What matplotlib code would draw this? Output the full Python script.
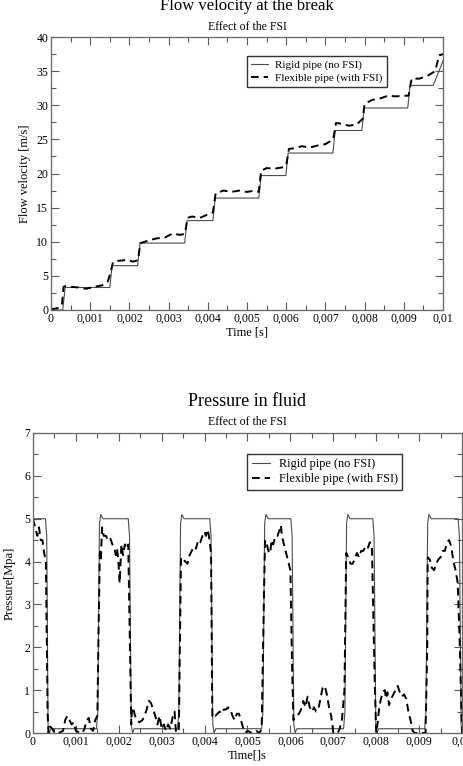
import numpy as np
import matplotlib.pyplot as plt
from matplotlib.ticker import MultipleLocator

plt.rcParams['font.family'] = ['Liberation Serif', 'DejaVu Serif']

# --- data: flow velocity at the break ---
vel_rigid_t = [0, 0.00030, 0.00036, 0.00150, 0.00156, 0.00221, 0.00227, 0.00341, 0.00347,
               0.00413, 0.00419, 0.00530, 0.00536, 0.00599, 0.00605, 0.00719, 0.00725,
               0.00793, 0.00799, 0.00910, 0.00916, 0.00975, 0.0100]
vel_rigid_v = [0, 0, 3.3, 3.3, 6.5, 6.5, 9.8, 9.8, 13.1, 13.1, 16.4, 16.4, 19.7, 19.7,
               23.0, 23.0, 26.3, 26.3, 29.6, 29.6, 32.9, 32.9, 36.5]

vel_flex_t = [0, 0.0001, 0.0002, 0.00028, 0.00032, 0.00036, 0.0005, 0.0007, 0.0009, 0.0011,
              0.0013, 0.00145, 0.00152, 0.00158, 0.0017, 0.0019, 0.0021, 0.00222, 0.00228,
              0.0025, 0.0027, 0.0029, 0.0031, 0.0033, 0.00342, 0.00348, 0.0036, 0.0038,
              0.004, 0.00413, 0.0042, 0.0044, 0.0046, 0.0048, 0.005, 0.0052, 0.0053,
              0.00536, 0.0055, 0.0057, 0.0059, 0.006, 0.00607, 0.0062, 0.0064, 0.0066,
              0.0068, 0.007, 0.0072, 0.00727, 0.0074, 0.0076, 0.0078, 0.00795, 0.008,
              0.0082, 0.0084, 0.0086, 0.0088, 0.009, 0.00912, 0.0092, 0.0094, 0.0096,
              0.0098, 0.0099, 0.0100]
vel_flex_v = [0.1, 0.2, 0.3, 0.8, 3.4, 3.5, 3.4, 3.3, 3.1, 3.4,
              3.6, 4.2, 5.5, 7.0, 7.2, 7.3, 7.1, 7.3, 9.8,
              10.2, 10.5, 10.6, 11.2, 11.0, 11.2, 13.5, 13.7, 13.5,
              14.0, 14.3, 17.1, 17.5, 17.3, 17.5, 17.3, 17.5, 17.3,
              20.4, 20.8, 20.7, 20.9, 21.2, 23.6, 23.7, 24.0, 23.8,
              24.1, 24.3, 25.0, 27.4, 27.3, 27.0, 27.2, 28.0, 30.2,
              30.8, 31.0, 31.4, 31.3, 31.4, 31.4, 33.9, 33.9, 34.3,
              35.0, 37.3, 37.5]

# --- data: pressure in fluid ---
p_rigid_t = [0, 0.00029, 0.00032, 0.00035, 0.00038, 0.00042, 0.00148, 0.00151, 0.00155,
             0.00158, 0.00163, 0.00222, 0.00225, 0.00229, 0.00232, 0.00236, 0.00337,
             0.0034, 0.00344, 0.00347, 0.00352, 0.00412, 0.00415, 0.00419, 0.00422,
             0.00426, 0.00533, 0.00536, 0.0054, 0.00543, 0.00548, 0.00601, 0.00604,
             0.00608, 0.00611, 0.00615, 0.00724, 0.00727, 0.00731, 0.00734, 0.00739,
             0.00792, 0.00795, 0.00799, 0.00802, 0.00806, 0.00913, 0.00916, 0.0092,
             0.00923, 0.00928, 0.00991, 0.00994, 0.00998, 0.0100]
p_rigid_v = [5.0, 5.0, 4.6, 0.2, 0.0, 0.1, 0.1, 0.5, 4.9,
             5.1, 5.0, 5.0, 4.6, 0.2, 0.0, 0.1, 0.1,
             0.5, 4.9, 5.1, 5.0, 5.0, 4.6, 0.2, 0.0,
             0.1, 0.1, 0.5, 4.9, 5.1, 5.0, 5.0, 4.6,
             0.2, 0.0, 0.1, 0.1, 0.5, 4.9, 5.1, 5.0,
             5.0, 4.6, 0.2, 0.0, 0.1, 0.1, 0.5, 4.9,
             5.1, 5.0, 5.0, 4.6, 0.2, 0.0]

p_flex_t = [0, 0.00005, 0.0001, 0.00014, 0.00018, 0.00022, 0.00026, 0.0003, 0.00034, 0.00036,
            0.0004, 0.00045, 0.0005, 0.0006, 0.0007, 0.00075, 0.0008, 0.00085, 0.0009, 0.00095,
            0.001, 0.0011, 0.00115, 0.0012, 0.00125, 0.0013, 0.00135, 0.0014, 0.00145, 0.0015,
            0.00153, 0.00156, 0.00158, 0.00161, 0.00165, 0.0017, 0.00175, 0.0018, 0.00185,
            0.0019, 0.00193, 0.00196, 0.00199, 0.00202, 0.00206, 0.0021, 0.00214, 0.00218,
            0.00222, 0.00226, 0.00229, 0.00231, 0.00234, 0.00238, 0.00242, 0.00248, 0.00255,
            0.0026, 0.00265, 0.0027, 0.00275, 0.0028, 0.00285, 0.0029, 0.00295, 0.003,
            0.00305, 0.0031, 0.00315, 0.0032, 0.00325, 0.0033, 0.00333, 0.00337, 0.0034,
            0.00343, 0.00345, 0.0035, 0.0036, 0.00365, 0.0037, 0.00375, 0.0038, 0.00385,
            0.0039, 0.00395, 0.004, 0.00403, 0.00407, 0.0041, 0.00415, 0.00418, 0.0042,
            0.00425, 0.0043, 0.00435, 0.0044, 0.00445, 0.0045, 0.00455, 0.0046, 0.00465,
            0.0047, 0.00475, 0.0048, 0.00485, 0.0049, 0.00495, 0.005, 0.0051, 0.0052,
            0.00528, 0.00533, 0.00538, 0.00541, 0.00545, 0.0055, 0.00553, 0.00556, 0.0056,
            0.00565, 0.0057, 0.00575, 0.00578, 0.0058, 0.00585, 0.0059, 0.00595, 0.006,
            0.00604, 0.00607, 0.0061, 0.00615, 0.0062, 0.00625, 0.0063, 0.00635, 0.0064,
            0.00645, 0.0065, 0.00655, 0.0066, 0.00665, 0.0067, 0.00675, 0.0068, 0.00685,
            0.0069, 0.00695, 0.007, 0.0071, 0.00715, 0.0072, 0.00726, 0.0073, 0.00735,
            0.0074, 0.00745, 0.0075, 0.00755, 0.0076, 0.00765, 0.0077, 0.00775, 0.0078,
            0.00785, 0.0079, 0.00797, 0.008, 0.00803, 0.00806, 0.0081, 0.00815, 0.0082,
            0.00823, 0.00826, 0.0083, 0.00835, 0.0084, 0.00845, 0.0085, 0.00855, 0.0086,
            0.00865, 0.0087, 0.00875, 0.0088, 0.00885, 0.0089, 0.0091, 0.00915, 0.00919,
            0.0092, 0.00925, 0.0093, 0.00935, 0.0094, 0.00945, 0.0095, 0.00955, 0.0096,
            0.00965, 0.0097, 0.00975, 0.0098, 0.00985, 0.0099, 0.00995, 0.0100]
p_flex_v = [5.0, 4.8, 4.6, 4.8, 4.5, 4.5, 4.2, 4.0, 0.5, 0.0,
            0.15, 0.1, 0.0, 0.0, 0.05, 0.3, 0.4, 0.3, 0.2, 0.25,
            0.05, 0.0, 0.0, 0.1, 0.3, 0.35, 0.1, 0.05, 0.3, 0.4,
            2.5, 4.3, 4.0, 4.8, 4.6, 4.6, 4.5, 4.55, 4.4,
            4.3, 4.15, 4.3, 4.0, 3.5, 4.4, 4.15, 4.4, 4.3,
            4.4, 2.0, 0.2, 0.6, 0.55, 0.4, 0.3, 0.25, 0.3,
            0.4, 0.55, 0.75, 0.7, 0.55, 0.4, 0.2, 0.4, 0.1,
            0.2, 0.05, 0.2, 0.1, 0.35, 0.5, 0.05, 0.0, 0.1,
            2.5, 4.1, 4.05, 3.95, 4.15, 4.25, 4.35, 4.3, 4.5,
            4.45, 4.6, 4.7, 4.6, 4.75, 4.6, 4.2, 0.4, 0.45,
            0.4, 0.45, 0.5, 0.45, 0.55, 0.55, 0.6, 0.55, 0.4,
            0.3, 0.45, 0.45, 0.3, 0.1, 0.0, 0.05, 0.0, 0.05,
            0.0, 0.1, 3.0, 4.5, 4.4, 4.2, 4.2, 4.5, 4.4,
            4.6, 4.6, 4.75, 4.85, 4.6, 4.4, 4.2, 4.0, 3.8,
            1.5, 0.3, 0.35, 0.4, 0.45, 0.55, 0.75, 0.6, 0.85,
            0.6, 0.5, 0.6, 0.5, 0.55, 0.8, 1.05, 1.1, 0.9,
            0.6, 0.4, 0.0, 0.0, 0.1, 0.3, 1.0, 4.2, 4.1,
            3.95, 3.95, 4.05, 4.2, 4.1, 4.25, 4.25, 4.35, 4.3,
            4.45, 4.35, 1.0, 0.0, 0.2, 0.5, 0.75, 0.95, 1.0,
            0.8, 0.95, 0.65, 0.8, 0.9, 1.0, 1.1, 0.95, 0.85,
            0.9, 0.8, 0.5, 0.3, 0.05, 0.0, 0.0, 0.0, 2.0,
            4.1, 4.05, 3.85, 3.8, 3.95, 4.05, 4.1, 4.25, 4.25,
            4.45, 4.5, 4.35, 4.0, 3.8, 3.5, 2.0, 0.0]

time_ticks = [0, 0.001, 0.002, 0.003, 0.004, 0.005, 0.006, 0.007, 0.008, 0.009, 0.01]
time_labels = ['0', '0,001', '0,002', '0,003', '0,004', '0,005', '0,006', '0,007',
               '0,008', '0,009', '0,01']

W, H = 464, 766
fig = plt.figure(figsize=(W / 100, H / 100), dpi=100)

def box(l, t, r, b):
    return [l / W, 1 - b / H, (r - l) / W, (b - t) / H]

def style(ax, ymajor, yminor):
    ax.set_xlim(0, 0.01)
    ax.set_xticks(time_ticks, time_labels)
    ax.xaxis.set_minor_locator(MultipleLocator(0.0005))
    ax.yaxis.set_major_locator(MultipleLocator(ymajor))
    ax.yaxis.set_minor_locator(MultipleLocator(yminor))
    ax.tick_params(which='both', direction='in', top=True, right=True,
                   color='0.35', labelsize=8.5, pad=2)
    ax.tick_params(which='major', length=6, width=0.8)
    ax.tick_params(which='minor', length=3.5, width=0.8)
    for s in ax.spines.values():
        s.set_color('0.4')
        s.set_linewidth(0.9)

def add_legend(ax, size):
    ax.legend(loc='upper left', bbox_to_anchor=(0.5, 0.93), fontsize=size,
              fancybox=False, edgecolor='0.2', framealpha=1, borderaxespad=0,
              handlelength=1.5, handletextpad=0.7, borderpad=0.35, labelspacing=0.25)

# top chart
ax1 = fig.add_axes(box(51, 37, 443, 310))
ax1.plot(vel_rigid_t, vel_rigid_v, color='0.3', lw=0.8, label='Rigid pipe (no FSI)')
ax1.plot(vel_flex_t, vel_flex_v, color='black', lw=1.4, ls=(0, (4, 2.5)),
         label='Flexible pipe (with FSI)')
ax1.set_ylim(0, 40)
style(ax1, 5, 2.5)
ax1.set_xlabel('Time [s]', fontsize=9, labelpad=1)
ax1.set_ylabel('Flow velocity [m/s]', fontsize=9, labelpad=4)
add_legend(ax1, 8)
fig.text(247 / W, 1 - 6 / H, 'Flow velocity at the break', ha='center', va='center', fontsize=12)
fig.text(247 / W, 1 - 27 / H, 'Effect of the FSI', ha='center', va='center', fontsize=8.5)

# bottom chart
ax2 = fig.add_axes(box(33, 433, 462, 733))
ax2.plot(p_rigid_t, p_rigid_v, color='0.3', lw=0.8, label='Rigid pipe (no FSI)')
ax2.plot(p_flex_t, p_flex_v, color='black', lw=1.4, ls=(0, (4, 2.5)),
         label='Flexible pipe (with FSI)')
ax2.set_ylim(0, 7)
style(ax2, 1, 0.5)
ax2.set_xlabel('Time[]s', fontsize=9, labelpad=1)
ax2.set_ylabel('Pressure[Mpa]', fontsize=9, labelpad=6)
add_legend(ax2, 8.8)
fig.text(247 / W, 1 - 402 / H, 'Pressure in fluid', ha='center', va='center', fontsize=13)
fig.text(247 / W, 1 - 422 / H, 'Effect of the FSI', ha='center', va='center', fontsize=8.5)

fig.savefig('out.png', dpi=100)
